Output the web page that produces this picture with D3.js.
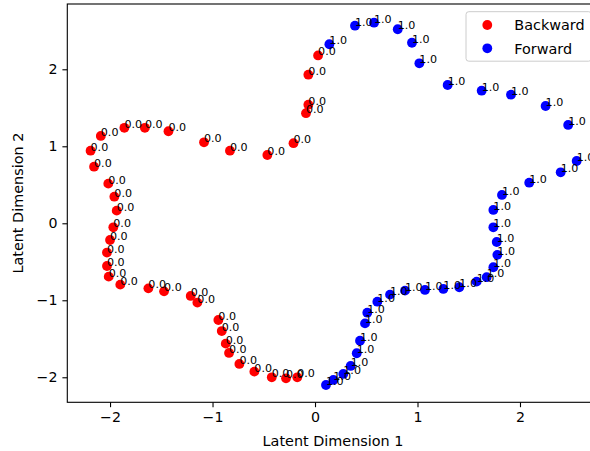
<!DOCTYPE html>
<html>
<head>
<meta charset="utf-8">
<script src="https://cdn.jsdelivr.net/npm/d3@7"></script>
<style>
  html, body { margin: 0; padding: 0; background: #fff; }
  svg { display: block; font-family: "DejaVu Sans", sans-serif; }
</style>
</head>
<body>
<svg id="chart" width="590" height="451"></svg>
<script>
// Latent-space coordinates of the two trajectories
const backwardX = [0.03, -0.065, -0.065, -0.088, -0.21, -0.465, -0.83, -1.083, -1.43, -1.66, -1.86, -2.09, -2.19, -2.156, -2.017, -1.958, -1.935, -1.968, -2.0, -2.03, -2.03, -2.013, -1.90, -1.626, -1.473, -1.213, -1.148, -0.943, -0.91, -0.871, -0.839, -0.738, -0.592, -0.422, -0.283, -0.173];
const backwardY = [2.18, 1.93, 1.54, 1.43, 1.04, 0.887, 0.943, 1.052, 1.195, 1.24, 1.24, 1.134, 0.943, 0.735, 0.515, 0.345, 0.164, -0.052, -0.217, -0.38, -0.555, -0.693, -0.797, -0.845, -0.884, -0.944, -1.03, -1.256, -1.40, -1.563, -1.684, -1.827, -1.927, -2.0, -2.013, -2.0];
const forwardX = [0.14, 0.39, 0.576, 0.807, 0.946, 1.018, 1.294, 1.626, 1.912, 2.25, 2.47, 2.553, 2.397, 2.09, 1.824, 1.74, 1.74, 1.773, 1.779, 1.74, 1.675, 1.577, 1.408, 1.252, 1.073, 0.878, 0.732, 0.608, 0.51, 0.488, 0.439, 0.407, 0.348, 0.276, 0.179, 0.107];
const forwardY = [2.325, 2.566, 2.605, 2.52, 2.345, 2.078, 1.796, 1.722, 1.67, 1.523, 1.277, 0.809, 0.662, 0.527, 0.368, 0.173, -0.052, -0.243, -0.41, -0.571, -0.70, -0.758, -0.831, -0.853, -0.866, -0.875, -0.927, -1.018, -1.161, -1.30, -1.525, -1.688, -1.853, -1.957, -2.035, -2.10];
const backwardLabel = 0.0;
const forwardLabel = 1.0;
const seriesNames = ["Backward", "Forward"];
const seriesColors = ["#ff0000", "#0000ff"];
const xTicks = [-2, -1, 0, 1, 2];
const yTicks = [-2, -1, 0, 1, 2];

const svg = d3.select("#chart");
// the plotting area runs a little past the right edge of the canvas
const plot = { left: 67.3, top: 4, right: 598.7, bottom: 402.3 };

const x = d3.scaleLinear().domain([-2.417, 2.768]).range([plot.left, plot.right]);
const y = d3.scaleLinear().domain([-2.325, 2.848]).range([plot.bottom, plot.top]);

const fmtTick = d => d < 0 ? "\u2212" + Math.abs(d) : String(d);

// axes
const xAxis = d3.axisBottom(x).tickValues(xTicks).tickFormat(fmtTick).tickSize(4.9).tickPadding(4.9).tickSizeOuter(0);
const yAxis = d3.axisLeft(y).tickValues(yTicks).tickFormat(fmtTick).tickSize(4.9).tickPadding(4.9).tickSizeOuter(0);

const gx = svg.append("g").attr("transform", `translate(0,${plot.bottom})`).call(xAxis);
const gy = svg.append("g").attr("transform", `translate(${plot.left},0)`).call(yAxis);
[gx, gy].forEach(g => {
  g.select(".domain").remove();
  g.selectAll(".tick line").attr("stroke", "#000").attr("stroke-width", 1.1);
  g.selectAll(".tick text").attr("fill", "#000").style("font-size", "14.2px").style("font-family", "DejaVu Sans");
});

// spines
svg.append("rect")
  .attr("x", plot.left).attr("y", plot.top)
  .attr("width", plot.right - plot.left).attr("height", plot.bottom - plot.top)
  .attr("fill", "none").attr("stroke", "#000").attr("stroke-width", 1.1);

// axis titles
svg.append("text")
  .attr("x", (plot.left + plot.right) / 2).attr("y", 446)
  .attr("text-anchor", "middle").style("font-size", "14.4px").attr("fill", "#000")
  .text("Latent Dimension 1");
svg.append("text")
  .attr("transform", `translate(23,${(plot.top + plot.bottom) / 2}) rotate(-90)`)
  .attr("text-anchor", "middle").style("font-size", "14.4px").attr("fill", "#000")
  .text("Latent Dimension 2");

const series = [
  { xs: backwardX, ys: backwardY, label: backwardLabel, color: seriesColors[0] },
  { xs: forwardX, ys: forwardY, label: forwardLabel, color: seriesColors[1] }
];

svg.append("clipPath").attr("id", "plotclip")
  .append("rect").attr("x", plot.left).attr("y", plot.top)
  .attr("width", plot.right - plot.left).attr("height", plot.bottom - plot.top);

const layer = svg.append("g").attr("clip-path", "url(#plotclip)");

// points
series.forEach(s => {
  layer.append("g").selectAll("circle")
    .data(s.xs.map((v, i) => [v, s.ys[i]]))
    .join("circle")
    .attr("cx", d => x(d[0])).attr("cy", d => y(d[1]))
    .attr("r", 4.9).attr("fill", s.color);
});

// value labels next to each point
series.forEach(s => {
  layer.append("g").selectAll("text")
    .data(s.xs.map((v, i) => [v, s.ys[i]]))
    .join("text")
    .attr("x", d => x(d[0])).attr("y", d => y(d[1]))
    .style("font-size", "11.1px").attr("fill", "#000")
    .text(s.label.toFixed(1));
});

// legend
const lg = svg.append("g");
lg.append("rect")
  .attr("x", 466).attr("y", 11.7).attr("width", 125.5).attr("height", 49.5)
  .attr("rx", 2.8).attr("fill", "#fff").attr("fill-opacity", 0.8)
  .attr("stroke", "#cccccc").attr("stroke-width", 1);
seriesNames.forEach((name, i) => {
  const cy = 25 + i * 23.3;
  lg.append("circle").attr("cx", 487.3).attr("cy", cy).attr("r", 4.9).attr("fill", seriesColors[i]);
  lg.append("text").attr("x", 514.3).attr("y", cy + 5.2)
    .style("font-size", "14.4px").attr("fill", "#000").text(name);
});
</script>
</body>
</html>
